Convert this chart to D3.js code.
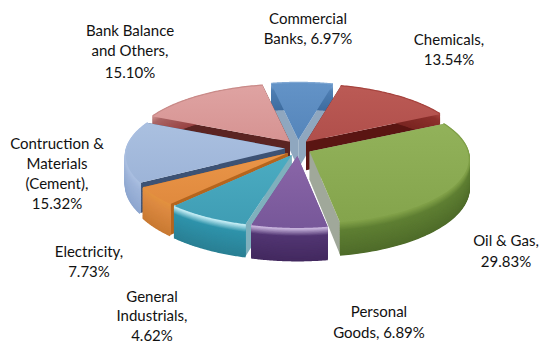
<!DOCTYPE html>
<html>
<head>
<meta charset="utf-8">
<script src="https://cdn.jsdelivr.net/npm/d3@7"></script>
<style>
html,body{margin:0;padding:0;background:#fff;}
svg{display:block;}
text{font-family:Lato,"Open Sans",sans-serif;font-size:15px;fill:#111;}
</style>
</head>
<body>
<svg id="chart" width="541" height="343"></svg>
<script>
// Portfolio sector split, clockwise from the top wedge
const sectors = ["Commercial Banks","Chemicals","Oil & Gas","Personal Goods","Electricity","General Industrials","Contruction & Materials (Cement)","Bank Balance and Others"];
const weights = [6.97,13.54,29.83,6.89,7.73,4.62,15.32,15.10];

// Surface, side cut and rim shades per wedge
const topLight = ["#6393c7","#bb5a55","#92b25a","#8a66a8","#4bacc2","#ea9548","#aac0e0","#dfa3a2"];
const topDark  = ["#5585ba","#b04f4b","#84a44c","#775799","#3f9db4","#e08a3e","#9db4d8","#d69392"];
const cutShade = ["#8fa7bf","#5a1512","#a0a89a","#6d5290","#7fb0bd","#b5651d","#3d5274","#5b2422"];
const rimTop   = ["#7ea6d2","#a6433e","#7f9f47","#c7b3dc","#bfeaf2","#e2913f","#a9bee0","#c98a88"];
const rimMid   = ["#4f7fb3","#8e312d","#5f7f33","#523673","#2f93ab","#dc8a42","#9fb5da","#aa6666"];
const rimLow   = ["#3f6da0","#7a2622","#4f6c2a","#43295f","#2a8094","#c97a33","#8da6cf","#994444"];

// Label lines with their centre x and baselines
const labelLines = [
  ["Commercial","Banks, 6.97%"],
  ["Chemicals,","13.54%"],
  ["Oil & Gas,","29.83%"],
  ["Personal","Goods, 6.89%"],
  ["Electricity,","7.73%"],
  ["General","Industrials,","4.62%"],
  ["Contruction &","Materials","(Cement),","15.32%"],
  ["Bank Balance","and Others,","15.10%"]
];
const labelX = [308,449,506,379,89,152,57,130];
const labelY = [
  [24,44],[45,65],[246,267],[317,338],[257,277],[302,321,341],[149,169,189,209],[36,56,78]
];

const svg = d3.select("#chart");
const cx = 298, cy = 148;
const radiusX = 158, radiusY = 63.6, persp = 0.116, thickness = 28.5;
const explodeX = 13, explodeY = 8;

// Ground-plane point to screen, with a mild perspective towards the viewer
function project(u, v, drop, ox, oy) {
  const w = 1 / (1 - persp * v);
  return [cx + ox + radiusX * u * w, cy + oy + radiusY * v * w + thickness * w * drop];
}

const arcs = d3.pie().sort(null).value(d => d)
  .startAngle(-11 * Math.PI / 180)
  .endAngle(349 * Math.PI / 180)(weights);

const line = d3.line();
const defs = svg.append("defs");

// Paint back wedges first so that nearer ones overlap them
const paintOrder = [0,7,1,6,5,2,4,3];

paintOrder.forEach(i => {
  const a = arcs[i];
  const mid = (a.startAngle + a.endAngle) / 2;
  const ox = explodeX * Math.sin(mid), oy = -explodeY * Math.cos(mid);
  const g = svg.append("g").attr("class", "wedge");
  const angles = d3.range(0, 61).map(k => a.startAngle + (a.endAngle - a.startAngle) * k / 60);
  const rimAt = drop => angles.map(t => project(Math.sin(t), -Math.cos(t), drop, ox, oy));
  const apex = drop => project(0, 0, drop, ox, oy);

  // Flat cut faces on both sides of the wedge
  [a.startAngle, a.endAngle].forEach(t => {
    const tip = d => project(Math.sin(t), -Math.cos(t), d, ox, oy);
    g.append("path")
      .attr("d", line([apex(0), tip(0), tip(1), apex(1)]) + "Z")
      .attr("fill", cutShade[i]);
  });

  // Outer wall, shaded band by band so the shading follows the curve
  const shade = d3.scaleLinear().domain([0, 0.22, 1])
    .range([rimTop[i], rimMid[i], rimLow[i]]).interpolate(d3.interpolateRgb);
  d3.range(1, -0.001, -0.02).forEach(d => {
    g.append("path")
      .attr("d", line(rimAt(d)))
      .attr("fill", "none")
      .attr("stroke", shade(d))
      .attr("stroke-width", 2.5)
      .attr("stroke-linecap", "butt")
      .attr("stroke-linejoin", "round");
  });

  // Top surface
  const gradId = "top" + i;
  const grad = defs.append("linearGradient").attr("id", gradId)
    .attr("x1", 0).attr("y1", 0).attr("x2", 0).attr("y2", 1);
  grad.append("stop").attr("offset", "0%").attr("stop-color", topLight[i]);
  grad.append("stop").attr("offset", "100%").attr("stop-color", topDark[i]);
  g.append("path")
    .attr("d", line([apex(0), ...rimAt(0)]) + "Z")
    .attr("fill", `url(#${gradId})`);
});

// Slice labels
labelLines.forEach((lines, i) => {
  const t = svg.append("text").attr("text-anchor", "middle");
  lines.forEach((s, j) => {
    t.append("tspan").attr("x", labelX[i]).attr("y", labelY[i][j]).text(s);
  });
});
</script>
</body>
</html>
